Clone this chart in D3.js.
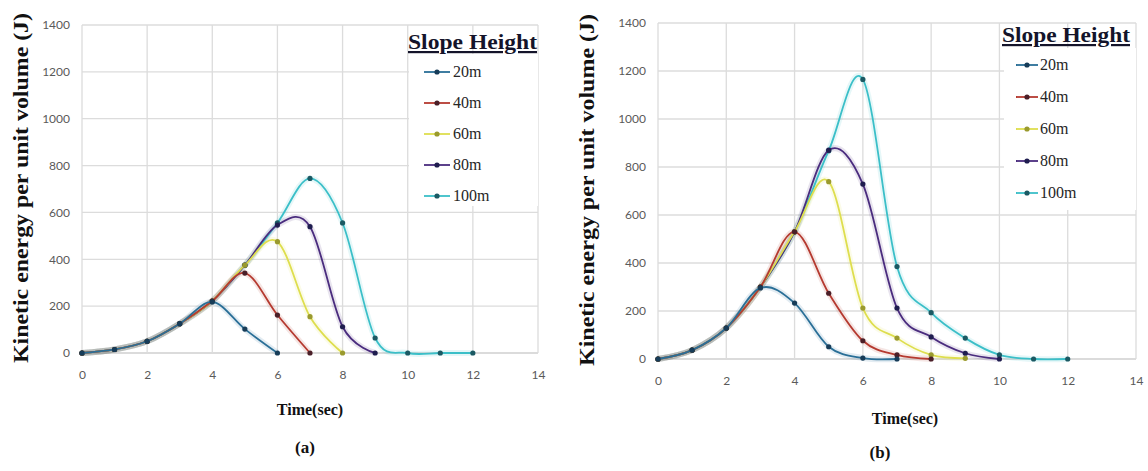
<!DOCTYPE html>
<html>
<head>
<meta charset="utf-8">
<script src="https://cdn.jsdelivr.net/npm/d3@7/dist/d3.min.js"></script>
<style>
  html, body { margin: 0; padding: 0; background: #fff; }
  svg { display: block; }
</style>
</head>
<body>
<svg id="chart" width="1148" height="471"></svg>
<script>
// Time axis (s) and tick labels
const timeSec = [0, 1, 2, 3, 4, 5, 6, 7, 8, 9, 10, 11, 12];
const xTicks = [0, 2, 4, 6, 8, 10, 12, 14];
const yTicks = [0, 200, 400, 600, 800, 1000, 1200, 1400];
const seriesNames = ["20m", "40m", "60m", "80m", "100m"];

// (a) kinetic energy per unit volume (J) for each slope height
const a20 = [0, 15, 50, 125, 218, 102, 0];
const a40 = [0, 15, 50, 125, 222, 341, 162, 0];
const a60 = [0, 15, 50, 125, 222, 375, 475, 155, 0];
const a80 = [0, 15, 50, 125, 222, 375, 546, 539, 112, 0];
const a100 = [0, 15, 50, 125, 222, 375, 555, 745, 555, 64, 0, 0, 0];

// (b) kinetic energy per unit volume (J) for each slope height
const b20 = [0, 37, 129, 296, 233, 51, 4, 0];
const b40 = [0, 37, 129, 300, 530, 274, 76, 17, 0];
const b60 = [0, 37, 129, 300, 530, 739, 212, 87, 17, 3];
const b80 = [0, 37, 129, 300, 530, 870, 729, 212, 92, 24, 0];
const b100 = [0, 37, 129, 300, 530, 868, 1165, 385, 193, 87, 17, 0, 0];

const lineColors = ["#2a6f97", "#b53a30", "#dede4e", "#4a2c7e", "#3bbfc8"];
const markerColors = ["#173c58", "#4a1f28", "#9a9a2e", "#1f1d4f", "#1b5963"];

const svg = d3.select("#chart");
svg.append("rect").attr("width", 1148).attr("height", 471).attr("fill", "#fff");

function drawPanel(cfg) {
  const x = d3.scaleLinear().domain([0, 14]).range([cfg.left, cfg.right]);
  const y = d3.scaleLinear().domain([0, 1400]).range([cfg.bottom, cfg.top]);
  const g = svg.append("g");

  // gridlines
  g.append("g").selectAll("line.h").data(yTicks).join("line")
    .attr("x1", cfg.left).attr("x2", cfg.right)
    .attr("y1", d => y(d)).attr("y2", d => y(d))
    .attr("stroke", d => d === 0 ? "#cfcfcf" : "#dcdcdc").attr("stroke-width", 1.3);
  g.append("g").selectAll("line.v").data(xTicks).join("line")
    .attr("x1", d => x(d)).attr("x2", d => x(d))
    .attr("y1", cfg.top).attr("y2", cfg.bottom)
    .attr("stroke", "#dcdcdc").attr("stroke-width", 1.3);

  // axes (labels only)
  const yAxis = g.append("g").attr("transform", `translate(${cfg.left - 12},0)`)
    .call(d3.axisLeft(y).tickValues(yTicks).tickFormat(d3.format("d")).tickSize(0).tickPadding(0));
  const xAxis = g.append("g").attr("transform", `translate(0,${cfg.bottom + 17})`)
    .call(d3.axisBottom(x).tickValues(xTicks).tickFormat(d3.format("d")).tickSize(0).tickPadding(0));
  [yAxis, xAxis].forEach(ax => {
    ax.select(".domain").remove();
    ax.selectAll("text").attr("font-family", "Lato, 'Open Sans', sans-serif")
      .attr("font-size", 12).attr("fill", "#5a5a5a");
  });

  // series, tallest slope drawn first
  const line = d3.line()
    .x((d, i) => x(timeSec[i]))
    .y(d => y(d))
    .curve(d3.curveCardinal.tension(0));
  const order = [4, 3, 2, 1, 0];
  order.forEach(k => {
    g.append("path").datum(cfg.series[k]).attr("d", line)
      .attr("fill", "none").attr("stroke", lineColors[k])
      .attr("stroke-width", 6).attr("stroke-opacity", 0.13);
  });
  order.forEach(k => {
    const s = cfg.series[k];
    g.append("path").datum(s).attr("d", line)
      .attr("fill", "none").attr("stroke", lineColors[k])
      .attr("stroke-width", 1.8);
    g.append("g").selectAll("circle").data(s).join("circle")
      .attr("cx", (d, i) => x(timeSec[i])).attr("cy", d => y(d))
      .attr("r", 2.6).attr("fill", markerColors[k]);
  });

  // y-axis title
  svg.append("text")
    .attr("transform", `translate(${cfg.yTitleX},${cfg.yTitleY}) rotate(-90)`)
    .attr("text-anchor", "middle")
    .attr("font-family", "'Liberation Serif', serif").attr("font-weight", "bold")
    .attr("font-size", 20).attr("fill", "#111")
    .attr("textLength", cfg.yTitleLen).attr("lengthAdjust", "spacingAndGlyphs")
    .text("Kinetic energy per unit volume (J)");

  // x-axis title and panel tag
  svg.append("text").attr("x", cfg.xTitleX).attr("y", cfg.xTitleY)
    .attr("text-anchor", "middle")
    .attr("font-family", "'Liberation Serif', serif").attr("font-weight", "bold")
    .attr("font-size", 16).attr("fill", "#111").text("Time(sec)");
  svg.append("text").attr("x", cfg.tagX).attr("y", cfg.tagY)
    .attr("text-anchor", "middle")
    .attr("font-family", "'Liberation Serif', serif").attr("font-weight", "bold")
    .attr("font-size", 17).attr("fill", "#111").text(cfg.tag);

  // legend
  const L = cfg.legend;
  svg.append("rect").attr("x", L.boxX).attr("y", L.boxY)
    .attr("width", L.boxW).attr("height", L.boxH).attr("fill", "#fff");
  svg.append("text").attr("x", L.titleX).attr("y", L.titleY)
    .attr("font-family", "'Liberation Serif', serif").attr("font-weight", "bold")
    .attr("font-size", 22).attr("fill", "#14142a")
    .attr("text-decoration", "underline")
    .attr("textLength", L.titleLen).attr("lengthAdjust", "spacingAndGlyphs")
    .text("Slope Height");
  seriesNames.forEach((name, k) => {
    const yy = L.firstY + k * L.step;
    svg.append("line").attr("x1", L.symX).attr("x2", L.symX + L.symW)
      .attr("y1", yy).attr("y2", yy)
      .attr("stroke", lineColors[k]).attr("stroke-width", 1.8);
    svg.append("circle").attr("cx", L.symX + L.symW / 2).attr("cy", yy)
      .attr("r", 2.6).attr("fill", markerColors[k]);
    svg.append("text").attr("x", L.textX).attr("y", yy + 5)
      .attr("font-family", "'Liberation Serif', serif")
      .attr("font-size", 16).attr("fill", "#262626").text(name);
  });
}

drawPanel({
  left: 82, right: 538, top: 25, bottom: 353,
  series: [a20, a40, a60, a80, a100],
  yTitleX: 28, yTitleY: 188, yTitleLen: 350,
  xTitleX: 310, xTitleY: 415, tagX: 305, tagY: 453, tag: "(a)",
  legend: { boxX: 409, boxY: 54, boxW: 129, boxH: 152,
            titleX: 408, titleY: 49, titleLen: 129,
            firstY: 72, step: 31, symX: 424, symW: 26, textX: 453 }
});

drawPanel({
  left: 658, right: 1136, top: 23, bottom: 359,
  series: [b20, b40, b60, b80, b100],
  yTitleX: 594, yTitleY: 190, yTitleLen: 352,
  xTitleX: 905, xTitleY: 424, tagX: 880, tagY: 458, tag: "(b)",
  legend: { boxX: 1004, boxY: 48, boxW: 132, boxH: 162,
            titleX: 1002, titleY: 42, titleLen: 128,
            firstY: 65, step: 32, symX: 1016, symW: 22, textX: 1040 }
});
</script>
</body>
</html>
